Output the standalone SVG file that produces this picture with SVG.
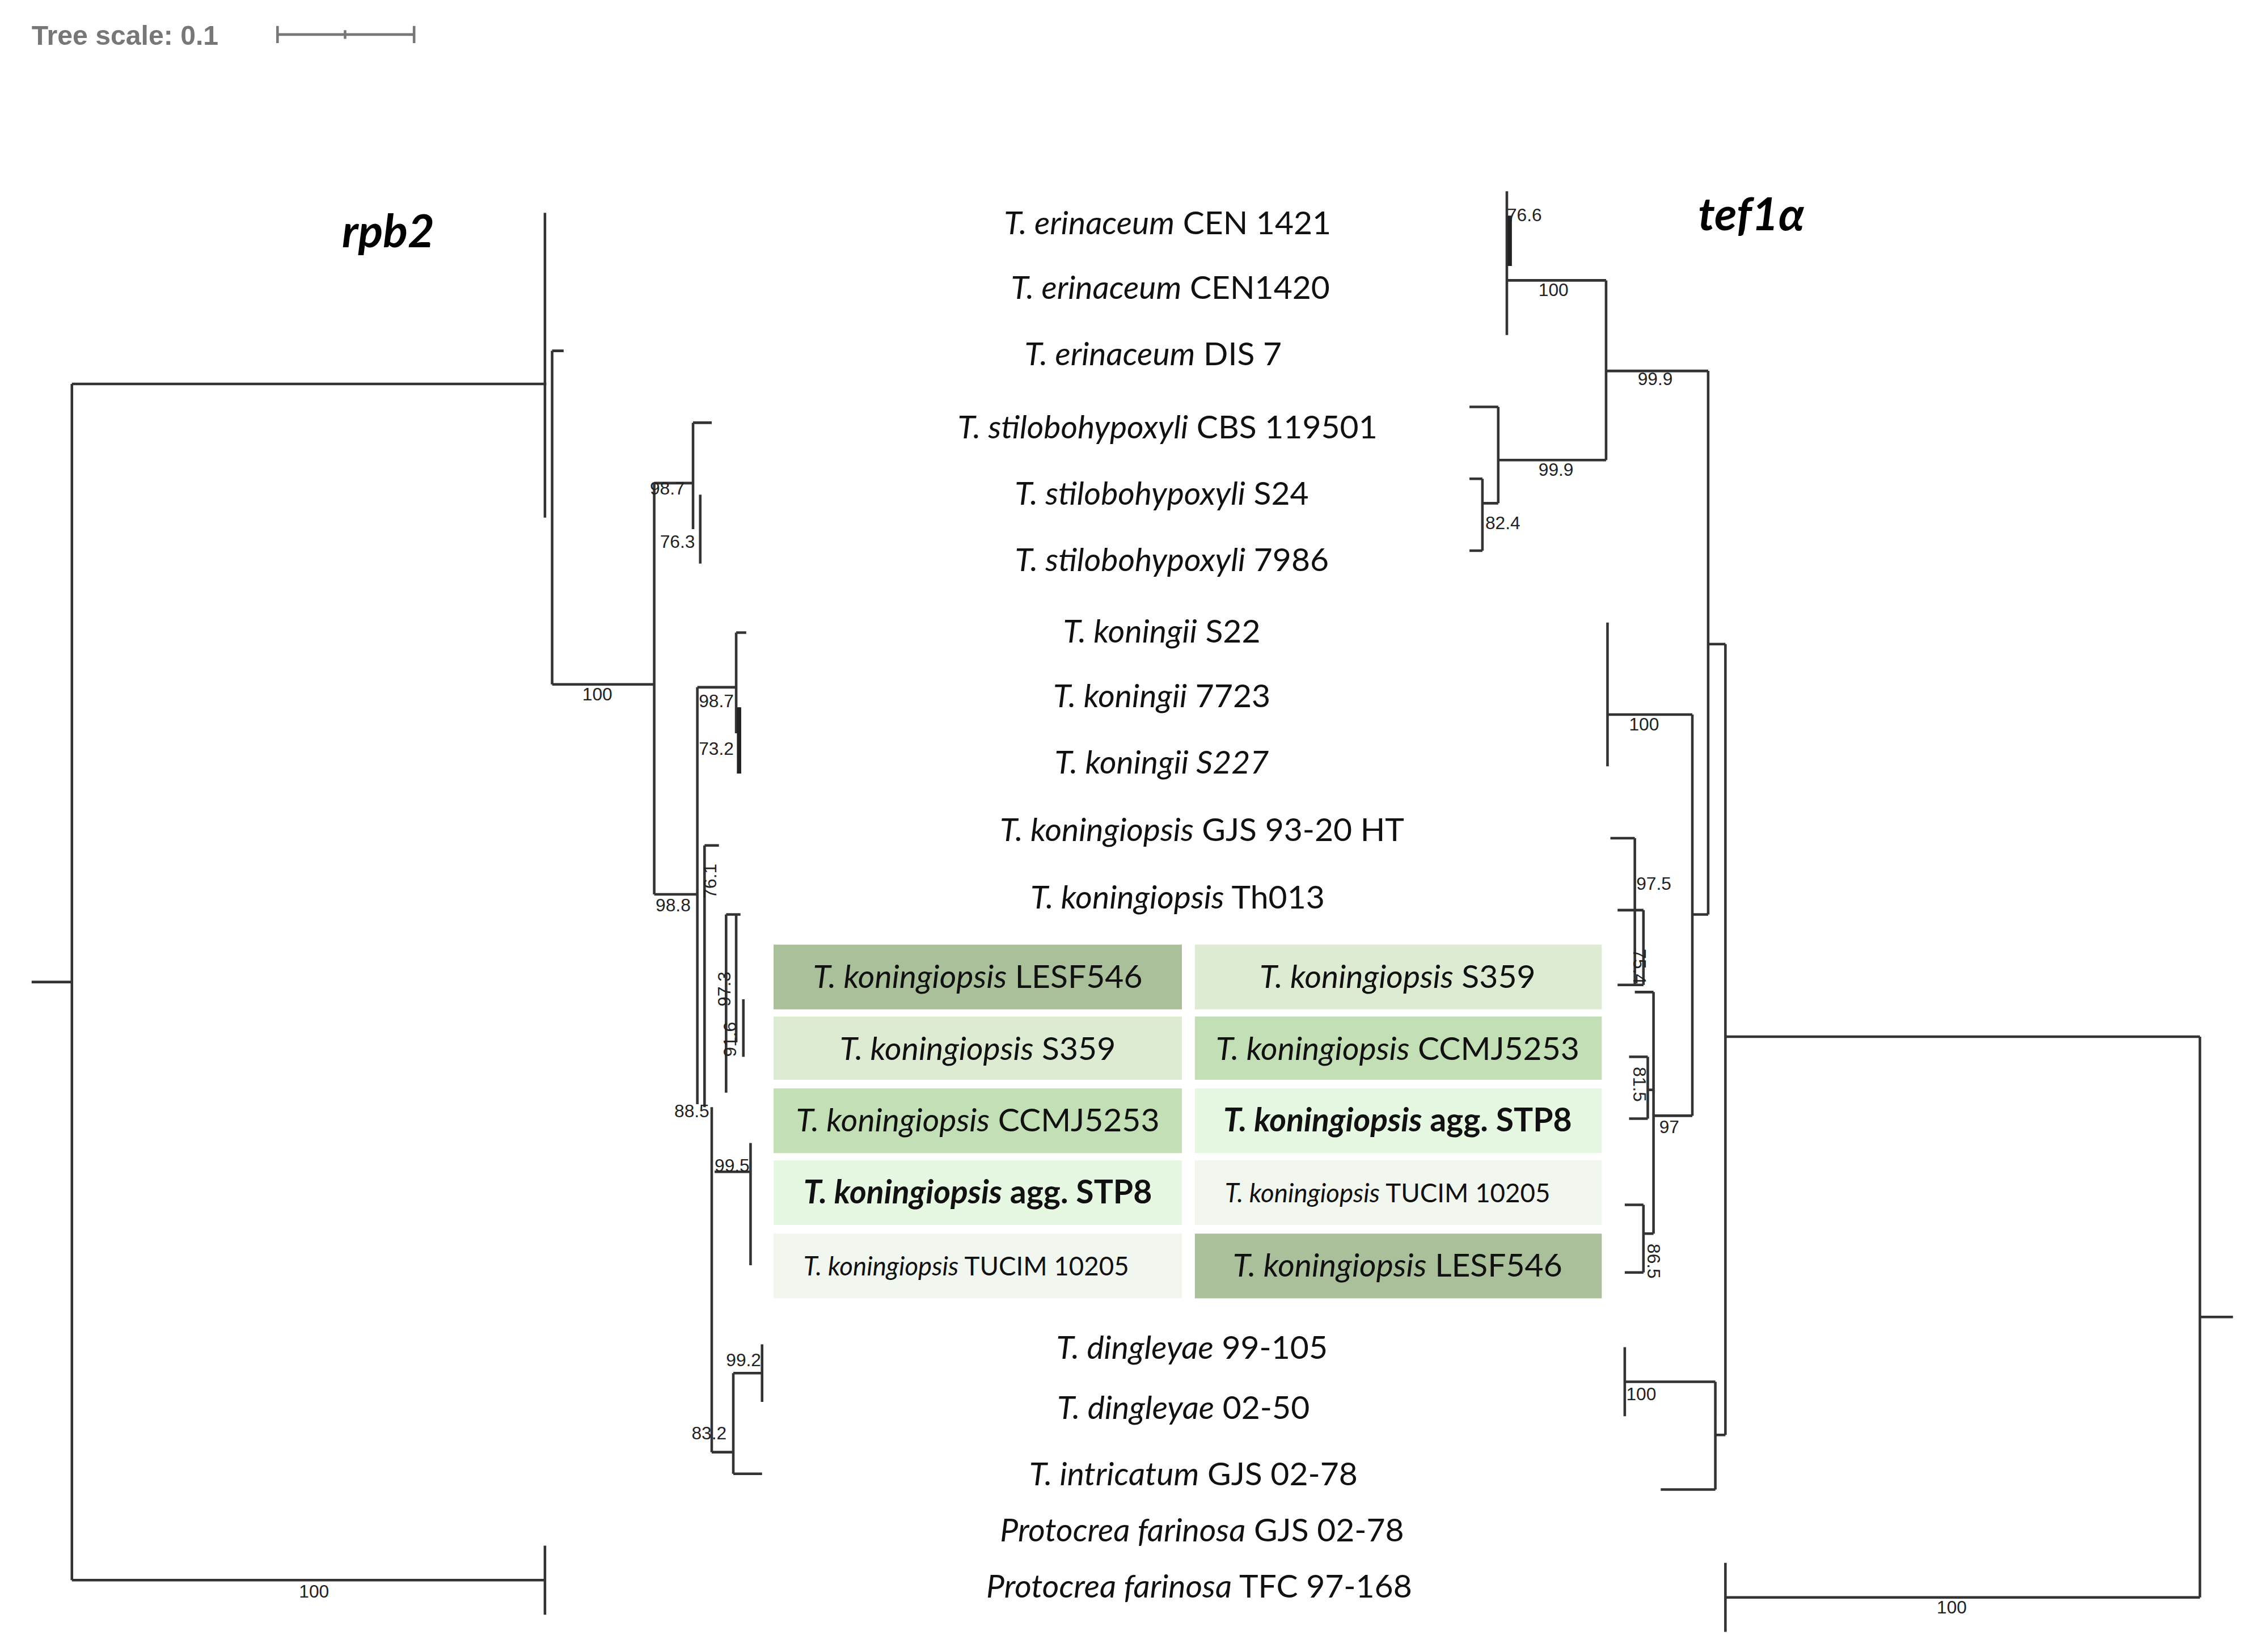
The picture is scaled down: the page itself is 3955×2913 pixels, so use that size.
<svg xmlns="http://www.w3.org/2000/svg" width="3955" height="2913" viewBox="0 0 3955 2913">
<style>
.t{font-family:Lato,"Noto Sans",sans-serif;font-size:22.5px;fill:#111;text-anchor:middle}
.b{font-weight:bold}
.sm{font-size:18px}
.s{font-family:"Liberation Sans Narrow","Liberation Sans",sans-serif;font-size:12.5px;fill:#222}
.e{fill:none;stroke:#333;stroke-width:1.8}
</style>
<rect width="3955" height="2913" fill="#fff"/>
<g transform="scale(2.5353)">
<g id="scale">
<text x="22" y="31" font-family="Liberation Sans,sans-serif" font-weight="bold" font-size="19" fill="#777">Tree scale: 0.1</text>
<path d="M193 24H288M193 18V30M288 18V30M240 21V27" fill="none" stroke="#777" stroke-width="1.8"/>
</g>
<text x="270" y="172" font-family="Lato,sans-serif" font-weight="bold" font-style="italic" font-size="32" text-anchor="middle">rpb2</text>
<text x="1218" y="160" font-family="Lato,sans-serif" font-weight="bold" font-style="italic" font-size="32" text-anchor="middle">tef1α</text>
<g id="boxes">
<rect x="538" y="657" width="284" height="45" fill="#a9c09b"/>
<rect x="831" y="657" width="283" height="45" fill="#dcebd2"/>
<rect x="538" y="707" width="284" height="44" fill="#dcebd2"/>
<rect x="831" y="707" width="283" height="44" fill="#c2dfb5"/>
<rect x="538" y="757" width="284" height="45" fill="#c2dfb5"/>
<rect x="831" y="757" width="283" height="45" fill="#e6f7e2"/>
<rect x="538" y="807" width="284" height="45" fill="#e6f7e2"/>
<rect x="831" y="807" width="283" height="45" fill="#f1f7ef"/>
<rect x="538" y="858" width="284" height="45" fill="#f1f7ef"/>
<rect x="831" y="858" width="283" height="45" fill="#a9c09b"/>
</g>
<g id="labels">
<text class="t" x="812" y="163"><tspan font-style="italic">T. erinaceum</tspan> CEN 1421</text>
<text class="t" x="814" y="208"><tspan font-style="italic">T. erinaceum</tspan> CEN1420</text>
<text class="t" x="802" y="254"><tspan font-style="italic">T. erinaceum</tspan> DIS 7</text>
<text class="t" x="812" y="305"><tspan font-style="italic">T. stilobohypoxyli</tspan> CBS 119501</text>
<text class="t" x="808" y="351"><tspan font-style="italic">T. stilobohypoxyli</tspan> S24</text>
<text class="t" x="815" y="397"><tspan font-style="italic">T. stilobohypoxyli</tspan> 7986</text>
<text class="t" x="808" y="447"><tspan font-style="italic">T. koningii</tspan> S22</text>
<text class="t" x="808" y="492"><tspan font-style="italic">T. koningii</tspan> 7723</text>
<text class="t" x="808" y="538" font-style="italic">T. koningii S227</text>
<text class="t" x="836" y="585"><tspan font-style="italic">T. koningiopsis</tspan> GJS 93-20 HT</text>
<text class="t" x="819" y="632"><tspan font-style="italic">T. koningiopsis</tspan> Th013</text>
<text class="t" x="680" y="687"><tspan font-style="italic">T. koningiopsis</tspan> LESF546</text>
<text class="t" x="972" y="687"><tspan font-style="italic">T. koningiopsis</tspan> S359</text>
<text class="t" x="680" y="737"><tspan font-style="italic">T. koningiopsis</tspan> S359</text>
<text class="t" x="972" y="737"><tspan font-style="italic">T. koningiopsis</tspan> CCMJ5253</text>
<text class="t" x="680" y="787"><tspan font-style="italic">T. koningiopsis</tspan> CCMJ5253</text>
<text class="t b" x="972" y="787"><tspan font-style="italic">T. koningiopsis</tspan> agg. STP8</text>
<text class="t b" x="680" y="837"><tspan font-style="italic">T. koningiopsis</tspan> agg. STP8</text>
<text class="t sm" x="965" y="836"><tspan font-style="italic">T. koningiopsis</tspan> TUCIM 10205</text>
<text class="t sm" x="672" y="887"><tspan font-style="italic">T. koningiopsis</tspan> TUCIM 10205</text>
<text class="t" x="972" y="888"><tspan font-style="italic">T. koningiopsis</tspan> LESF546</text>
<text class="t" x="829" y="945"><tspan font-style="italic">T. dingleyae</tspan> 99-105</text>
<text class="t" x="823" y="987"><tspan font-style="italic">T. dingleyae</tspan> 02-50</text>
<text class="t" x="830" y="1033"><tspan font-style="italic">T. intricatum</tspan> GJS 02-78</text>
<text class="t" x="836" y="1072"><tspan font-style="italic">Protocrea farinosa</tspan> GJS 02-78</text>
<text class="t" x="834" y="1111"><tspan font-style="italic">Protocrea farinosa</tspan> TFC 97-168</text>
</g>
<g id="connectors">
<path class="e" d="M22 683H50M50 267V1099M50 267H380M379 148V360M384 244H392M384 244V476M384 476H455M455 336V622M455 336H482M482 294V368M482 294H495M487 344V392M455 622H485M485 478V768M485 478H512M512 440V510M512 440H519M514 492V538"/>
<path class="e" d="M490 588V770M490 588H500M505 636V760M505 636H515M512 636V725M517 695V735M495 770V1010M497 815H522M522 795V880M495 1010H510M510 955V1025M510 955H530M530 935V975M510 1025H530M50 1099H379M379 1075V1123"/>
<path class="e" d="M1530 916H1553M1530 721V1111M1200 721H1530M1200 1111H1530M1200 1087V1135M1200 448V998M1188 448H1200M1188 258V636M1117 258H1188M1117 195V320M1048 195H1117M1048 133V233M1042 320H1117M1042 283V350M1022 283H1042M1031 333V383M1022 333H1031M1022 383H1031M1031 350H1042"/>
<path class="e" d="M1177 636H1188M1177 497V776M1118 497H1177M1118 433V533M1150 776H1177M1150 690V858M1137 583V685M1120 583H1137M1125 685H1143M1143 633V685M1125 633H1143M1137 690H1150M1146 735V778M1133 735H1146M1133 778H1146M1146 758H1150M1143 838V885M1130 838H1143M1130 885H1143M1143 858H1150M1130 961H1193M1130 937V985M1193 961V1036M1155 1036H1193M1193 998H1200"/>
<path d="M1050 150V185M514 492V538" stroke="#222" stroke-width="3"/>
</g>
<g id="support">
<text class="s" x="405" y="487">100</text>
<text class="s" x="452" y="344">98.7</text>
<text class="s" x="459" y="381">76.3</text>
<text class="s" x="486" y="492">98.7</text>
<text class="s" x="486" y="525">73.2</text>
<text class="s" x="456" y="634">98.8</text>
<text class="s" x="469" y="777">88.5</text>
<text class="s" x="497" y="815">99.5</text>
<text class="s" x="505" y="950">99.2</text>
<text class="s" x="481" y="1001">83.2</text>
<text class="s" x="208" y="1111">100</text>
<text class="s" transform="translate(498,625) rotate(-90)">76.1</text>
<text class="s" transform="translate(508,700) rotate(-90)">97.3</text>
<text class="s" transform="translate(512,735) rotate(-90)">91.6</text>
<text class="s" x="1048" y="154">76.6</text>
<text class="s" x="1070" y="206">100</text>
<text class="s" x="1139" y="268">99.9</text>
<text class="s" x="1070" y="331">99.9</text>
<text class="s" x="1033" y="368">82.4</text>
<text class="s" x="1133" y="508">100</text>
<text class="s" x="1138" y="619">97.5</text>
<text class="s" x="1154" y="788">97</text>
<text class="s" x="1131" y="974">100</text>
<text class="s" x="1347" y="1122">100</text>
<text class="s" transform="translate(1136,660) rotate(90)">75.4</text>
<text class="s" transform="translate(1136,742) rotate(90)">81.5</text>
<text class="s" transform="translate(1146,865) rotate(90)">86.5</text>
</g>
</g>
</svg>
